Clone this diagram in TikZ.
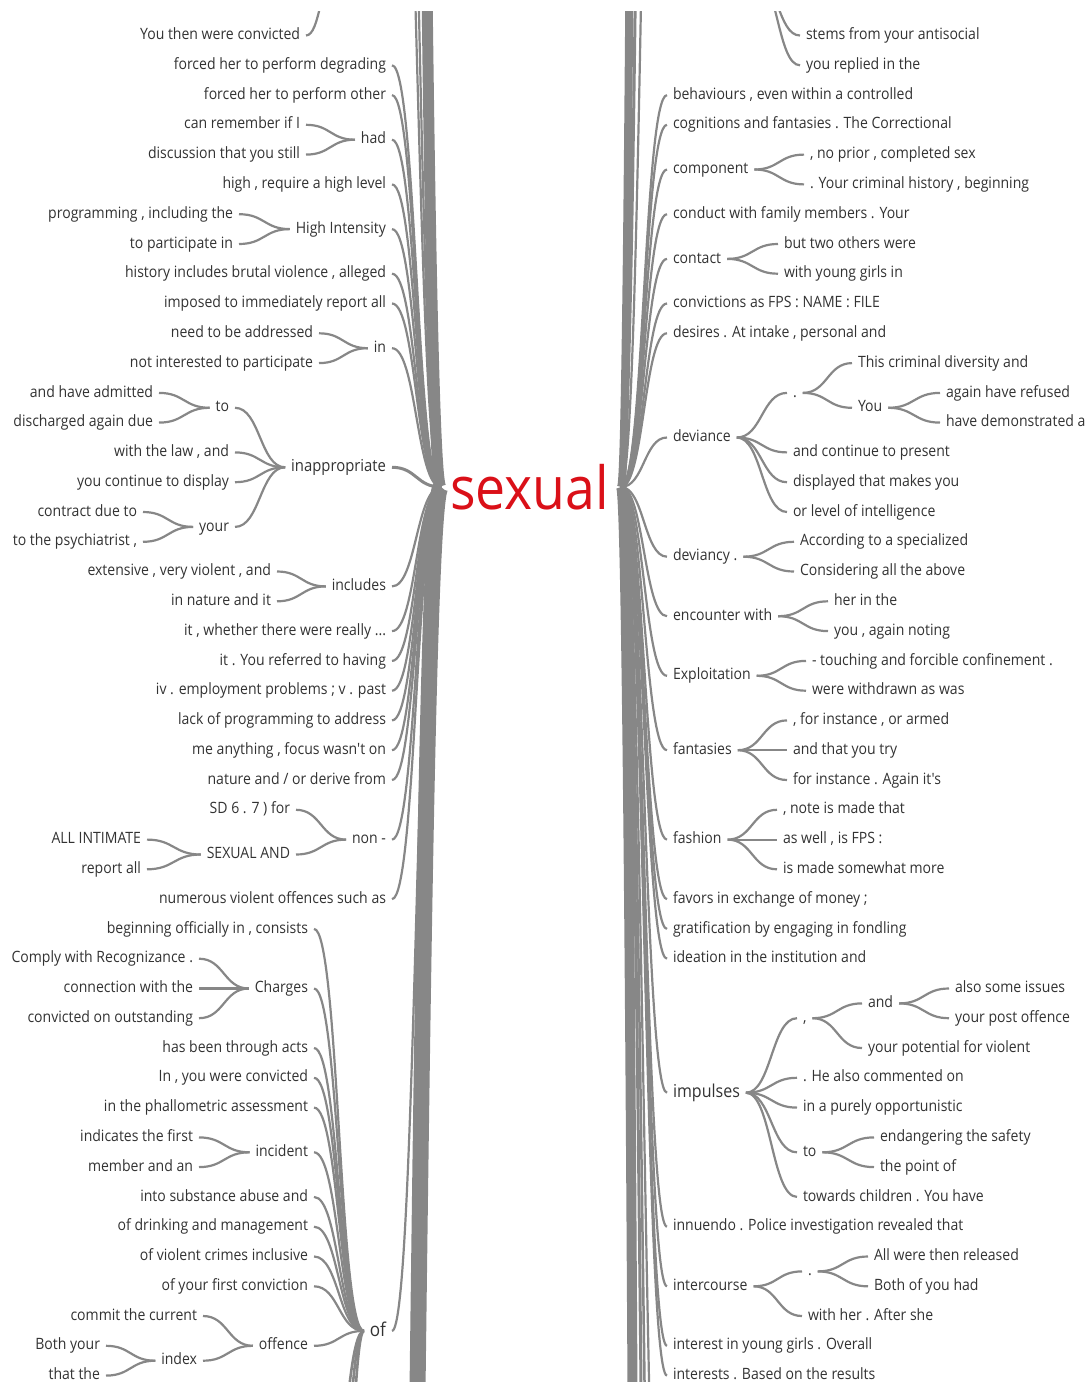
\documentclass[tikz,border=0pt]{standalone}
\usepackage{fontspec}
\newfontfamily\wt{Open Sans}[FakeStretch=0.9]
\usetikzlibrary{calc}
\definecolor{txtc}{RGB}{50,50,50}
\definecolor{lnc}{RGB}{135,135,135}
\definecolor{redc}{RGB}{218,16,24}
\newcommand\lk[3][]{\draw[lnk,#1] let \p1=(#2.east), \p2=(#3.west) in (\x1+6pt,\y1) .. controls ({(\x1+\x2)/2},\y1) and ({(\x1+\x2)/2},\y2) .. (\x2-6pt,\y2);}
\tikzset{
  wt/.style={inner sep=0pt, outer sep=0pt, text=txtc, font=\wt\fontsize{15.6}{18}\selectfont, text height=8.35pt, text depth=0pt, yshift=-2.5pt},
  wl/.style={wt, anchor=east},
  wr/.style={wt, anchor=west},
  lnk/.style={draw=lnc, line width=2.2pt},
}
\begin{document}
\begin{tikzpicture}[x=1pt,y=-1pt]
\useasboundingbox (0,0) rectangle (1086,1382);
% root
\node[anchor=base, inner sep=0pt, text=redc, font=\wt\fontsize{59.5}{62}\selectfont] (root) at (529.5,509.5) {sexual};
\coordinate (rL) at (447,487);
\coordinate (rR) at (615,487);
\coordinate (tl) at (341,-25);
\coordinate (tr) at (749,-25);
% ---------- left ----------
\node[wl] (L0) at (300,33) {You then were convicted};
\node[wl] (L1) at (386,62.8) {forced her to perform degrading};
\node[wl] (L2) at (386,92.6) {forced her to perform other};
\node[wl] (Lhad) at (386,137.2) {had};
\node[wl] (Lhad1) at (300,122.3) {can remember if I};
\node[wl] (Lhad2) at (300,152.1) {discussion that you still};
\node[wl] (L5) at (386,181.9) {high , require a high level};
\node[wl] (Lhi) at (386,226.6) {High Intensity};
\node[wl] (Lhi1) at (233,211.7) {programming , including the};
\node[wl] (Lhi2) at (233,241.5) {to participate in};
\node[wl] (L8) at (386,271.2) {history includes brutal violence , alleged};
\node[wl] (L9) at (386,301.0) {imposed to immediately report all};
\node[wl] (Lin) at (386,345.7) {in};
\node[wl] (Lin1) at (313,330.8) {need to be addressed};
\node[wl] (Lin2) at (313,360.6) {not interested to participate};
\node[wl, font=\wt\fontsize{16.5}{18}\selectfont, text height=8.8pt] (Linap) at (386,464.8) {inappropriate};
\node[wl] (Lto) at (229,405.3) {to};
\node[wl] (Lto1) at (153,390.4) {and have admitted};
\node[wl] (Lto2) at (153,420.1) {discharged again due};
\node[wl] (Lwl) at (229,449.9) {with the law , and};
\node[wl] (Lyc) at (229,479.7) {you continue to display};
\node[wl] (Lyour) at (229,524.4) {your};
\node[wl] (Lyour1) at (137,509.5) {contract due to};
\node[wl] (Lyour2) at (137,539.3) {to the psychiatrist ,};
\node[wl] (Linc) at (386,583.9) {includes};
\node[wl] (Linc1) at (271,569.0) {extensive , very violent , and};
\node[wl] (Linc2) at (271,598.8) {in nature and it};
\node[wl] (L20) at (386,628.6) {it , whether there were really ...};
\node[wl] (L21) at (386,658.4) {it . You referred to having};
\node[wl] (L22) at (386,688.2) {iv . employment problems ; v . past};
\node[wl] (L23) at (386,717.9) {lack of programming to address};
\node[wl] (L24) at (386,747.7) {me anything , focus wasn't on};
\node[wl] (L25) at (386,777.5) {nature and / or derive from};
\node[wl] (Lnon) at (386,837.1) {non -};
\node[wl] (Lnon1) at (290,807.3) {SD 6 . 7 ) for};
\node[wl] (Lsex) at (290,852.0) {SEXUAL AND};
\node[wl] (Lsex1) at (141,837.1) {ALL INTIMATE};
\node[wl] (Lsex2) at (141,866.8) {report all};
\node[wl] (L29) at (386,896.6) {numerous violent offences such as};
\node[wl, font=\wt\fontsize{19}{21}\selectfont, text height=10.2pt] (Lof) at (386,1328.4) {of};
\node[wl] (O30) at (308,926.4) {beginning officially in , consists};
\node[wl] (Ochg) at (308,986.0) {Charges};
\node[wl] (Ochg1) at (193,956.2) {Comply with Recognizance .};
\node[wl] (Ochg2) at (193,986.0) {connection with the};
\node[wl] (Ochg3) at (193,1015.7) {convicted on outstanding};
\node[wl] (O34) at (308,1045.5) {has been through acts};
\node[wl] (O35) at (308,1075.3) {In , you were convicted};
\node[wl] (O36) at (308,1105.1) {in the phallometric assessment};
\node[wl] (Oinc) at (308,1149.8) {incident};
\node[wl] (Oinc1) at (193,1134.9) {indicates the first};
\node[wl] (Oinc2) at (193,1164.6) {member and an};
\node[wl] (O39) at (308,1194.4) {into substance abuse and};
\node[wl] (O40) at (308,1224.2) {of drinking and management};
\node[wl] (O41) at (308,1254.0) {of violent crimes inclusive};
\node[wl] (O42) at (308,1283.8) {of your first conviction};
\node[wl] (Ooff) at (308,1343.3) {offence};
\node[wl] (Ooff1) at (197,1313.5) {commit the current};
\node[wl] (Oidx) at (197,1358.2) {index};
\node[wl] (Oidx1) at (100,1343.3) {Both your};
\node[wl] (Oidx2) at (100,1373.1) {that the};
% ---------- right ----------
\node[wr] (R0) at (806,33) {stems from your antisocial};
\node[wr] (R1) at (806,62.8) {you replied in the};
\node[wr] (R2) at (673,92.6) {behaviours , even within a controlled};
\node[wr] (R3) at (673,122.3) {cognitions and fantasies . The Correctional};
\node[wr] (Rcomp) at (673,167.0) {component};
\node[wr] (Rcomp1) at (810,152.1) {, no prior , completed sex};
\node[wr] (Rcomp2) at (810,181.9) {. Your criminal history , beginning};
\node[wr] (R6) at (673,211.7) {conduct with family members . Your};
\node[wr] (Rcon) at (673,256.4) {contact};
\node[wr] (Rcon1) at (784,241.5) {but two others were};
\node[wr] (Rcon2) at (784,271.2) {with young girls in};
\node[wr] (R9) at (673,301.0) {convictions as FPS : NAME : FILE};
\node[wr] (R10) at (673,330.8) {desires . At intake , personal and};
\node[wr] (Rdev) at (673,435.0) {deviance};
\node[wr] (Rdot) at (793,390.4) {.};
\node[wr] (Rdot1) at (858,360.6) {This criminal diversity and};
\node[wr] (Ryou) at (858,405.3) {You};
\node[wr] (Ryou1) at (946,390.4) {again have refused};
\node[wr] (Ryou2) at (946,420.1) {have demonstrated a};
\node[wr] (Rdev2) at (793,449.9) {and continue to present};
\node[wr] (Rdev3) at (793,479.7) {displayed that makes you};
\node[wr] (Rdev4) at (793,509.5) {or level of intelligence};
\node[wr] (Rdcy) at (673,554.2) {deviancy .};
\node[wr] (Rdcy1) at (800,539.3) {According to a specialized};
\node[wr] (Rdcy2) at (800,569.0) {Considering all the above};
\node[wr] (Renc) at (673,613.7) {encounter with};
\node[wr] (Renc1) at (834,598.8) {her in the};
\node[wr] (Renc2) at (834,628.6) {you , again noting};
\node[wr] (Rexp) at (673,673.3) {Exploitation};
\node[wr] (Rexp1) at (812,658.4) {- touching and forcible confinement .};
\node[wr] (Rexp2) at (812,688.2) {were withdrawn as was};
\node[wr] (Rfan) at (673,747.7) {fantasies};
\node[wr] (Rfan1) at (793,717.9) {, for instance , or armed};
\node[wr] (Rfan2) at (793,747.7) {and that you try};
\node[wr] (Rfan3) at (793,777.5) {for instance . Again it's};
\node[wr] (Rfas) at (673,837.1) {fashion};
\node[wr] (Rfas1) at (783,807.3) {, note is made that};
\node[wr] (Rfas2) at (783,837.1) {as well , is FPS :};
\node[wr] (Rfas3) at (783,866.8) {is made somewhat more};
\node[wr] (R29) at (673,896.6) {favors in exchange of money ;};
\node[wr] (R30) at (673,926.4) {gratification by engaging in fondling};
\node[wr] (R31) at (673,956.2) {ideation in the institution and};
\node[wr, font=\wt\fontsize{17.8}{20}\selectfont, text height=9.5pt] (Rimp) at (673,1090.2) {impulses};
\node[wr] (Rcom) at (803,1015.7) {,};
\node[wr] (Rand) at (868,1000.9) {and};
\node[wr] (Rand1) at (955,986.0) {also some issues};
\node[wr] (Rand2) at (955,1015.7) {your post offence};
\node[wr] (Rcom2) at (868,1045.5) {your potential for violent};
\node[wr] (Rimp2) at (803,1075.3) {. He also commented on};
\node[wr] (Rimp3) at (803,1105.1) {in a purely opportunistic};
\node[wr] (Rto) at (803,1149.8) {to};
\node[wr] (Rto1) at (880,1134.9) {endangering the safety};
\node[wr] (Rto2) at (880,1164.6) {the point of};
\node[wr] (Rimp5) at (803,1194.4) {towards children . You have};
\node[wr] (R40) at (673,1224.2) {innuendo . Police investigation revealed that};
\node[wr] (Rint) at (673,1283.8) {intercourse};
\node[wr] (Rid) at (808,1268.9) {.};
\node[wr] (Rid1) at (874,1254.0) {All were then released};
\node[wr] (Rid2) at (874,1283.8) {Both of you had};
\node[wr] (Rint2) at (808,1313.5) {with her . After she};
\node[wr] (R44) at (673,1343.3) {interest in young girls . Overall};
\node[wr] (R45) at (673,1373.1) {interests . Based on the results};
% virtual ends (branches beyond the visible area)
\coordinate (vlt1) at (386,-400);
\coordinate (vlt2) at (386,-700);
\coordinate (vlt3) at (386,-3000);
\coordinate (vlb1) at (386,2454);
\coordinate (vo1) at (308,1700);
\coordinate (vo2) at (308,2000);
\coordinate (vo3) at (308,2700);
\coordinate (vrt1) at (673,-9000);
\coordinate (vrt2) at (673,-2350);
\coordinate (vrt3) at (673,-813);
\coordinate (vrb1) at (673,9000);
\coordinate (vrb2) at (673,2900);
\coordinate (vrb3) at (673,2200);
\coordinate (vrb4) at (673,1750);
\begin{scope}
\clip (0,11) rectangle (1086,1382);
% bundles
\lk[line width=11pt]{vlt3}{rL}
\lk{vlt2}{rL}
\lk{vlt1}{rL}
\lk[line width=16pt]{vlb1}{rL}
\lk[line width=2.6pt]{vo1}{Lof}\lk[line width=2.6pt]{vo2}{Lof}\lk[line width=2.6pt]{vo3}{Lof}
\lk[line width=8pt]{rR}{vrt1}
\lk[line width=3pt]{rR}{vrt2}
\lk{rR}{vrt3}
\lk[line width=10pt]{rR}{vrb1}
\lk[line width=3pt]{rR}{vrb2}
\lk[line width=2.5pt]{rR}{vrb3}
\lk{rR}{vrb4}
% left depth 1
\foreach \q in {L1,L2,Lhad,L5,Lhi,L8,L9,Lin,Linc,L20,L21,L22,L23,L24,L25,Lnon,L29,Lof}{\lk{\q}{rL}}
\lk[line width=3pt]{Linap}{rL}
\lk{L0}{tl}
% left deeper
\lk{Lhad1}{Lhad}\lk{Lhad2}{Lhad}
\lk{Lhi1}{Lhi}\lk{Lhi2}{Lhi}
\lk{Lin1}{Lin}\lk{Lin2}{Lin}
\lk{Lto}{Linap}\lk{Lwl}{Linap}\lk{Lyc}{Linap}\lk{Lyour}{Linap}
\lk{Lto1}{Lto}\lk{Lto2}{Lto}
\lk{Lyour1}{Lyour}\lk{Lyour2}{Lyour}
\lk{Linc1}{Linc}\lk{Linc2}{Linc}
\lk{Lnon1}{Lnon}\lk{Lsex}{Lnon}
\lk{Lsex1}{Lsex}\lk{Lsex2}{Lsex}
\foreach \q in {O30,Ochg,O34,O35,O36,Oinc,O39,O40,O41,O42,Ooff}{\lk{\q}{Lof}}
\lk{Ochg1}{Ochg}\lk{Ochg2}{Ochg}\lk{Ochg3}{Ochg}
\lk{Oinc1}{Oinc}\lk{Oinc2}{Oinc}
\lk{Ooff1}{Ooff}\lk{Oidx}{Ooff}
\lk{Oidx1}{Oidx}\lk{Oidx2}{Oidx}
% right depth 1
\foreach \q in {R2,R3,Rcomp,R6,Rcon,R9,R10,Rdev,Rdcy,Renc,Rexp,Rfan,Rfas,R29,R30,R31,Rimp,R40,Rint,R44,R45}{\lk{rR}{\q}}
\lk{tr}{R0}\lk{tr}{R1}
% right deeper
\lk{Rcomp}{Rcomp1}\lk{Rcomp}{Rcomp2}
\lk{Rcon}{Rcon1}\lk{Rcon}{Rcon2}
\lk{Rdev}{Rdot}\lk{Rdev}{Rdev2}\lk{Rdev}{Rdev3}\lk{Rdev}{Rdev4}
\lk{Rdot}{Rdot1}\lk{Rdot}{Ryou}
\lk{Ryou}{Ryou1}\lk{Ryou}{Ryou2}
\lk{Rdcy}{Rdcy1}\lk{Rdcy}{Rdcy2}
\lk{Renc}{Renc1}\lk{Renc}{Renc2}
\lk{Rexp}{Rexp1}\lk{Rexp}{Rexp2}
\lk{Rfan}{Rfan1}\lk{Rfan}{Rfan2}\lk{Rfan}{Rfan3}
\lk{Rfas}{Rfas1}\lk{Rfas}{Rfas2}\lk{Rfas}{Rfas3}
\lk{Rimp}{Rcom}\lk{Rimp}{Rimp2}\lk{Rimp}{Rimp3}\lk{Rimp}{Rto}\lk{Rimp}{Rimp5}
\lk{Rcom}{Rand}\lk{Rcom}{Rcom2}
\lk{Rand}{Rand1}\lk{Rand}{Rand2}
\lk{Rto}{Rto1}\lk{Rto}{Rto2}
\lk{Rint}{Rid}\lk{Rint}{Rint2}
\lk{Rid}{Rid1}\lk{Rid}{Rid2}
\end{scope}
\end{tikzpicture}
\end{document}
